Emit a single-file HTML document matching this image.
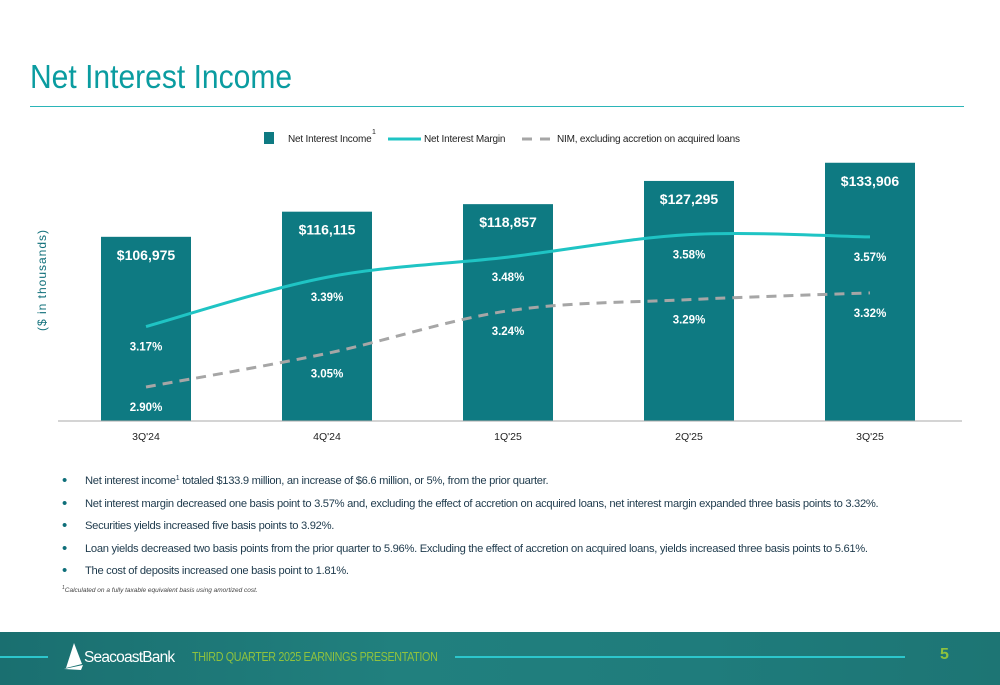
<!DOCTYPE html>
<html><head><meta charset="utf-8">
<style>
body{margin:0;width:1000px;height:685px;overflow:hidden;background:#fff;font-family:"Liberation Sans",sans-serif;position:relative}
.t{position:absolute;white-space:nowrap}
.title{left:30px;top:58px;font-size:33px;color:#0a9ca0;transform:scaleX(0.91);transform-origin:left top}
.rule{position:absolute;left:30px;top:106px;width:934px;height:1px;background:#2bb5b8}
ul{position:absolute;left:62px;top:474px;margin:0;padding:0;list-style:none;font-size:11.2px;color:#1e3a4c;letter-spacing:-0.3px}
li{height:22.5px;line-height:14px;position:relative;padding-left:23px;white-space:nowrap}
li:before{content:"•";position:absolute;left:0;top:0;font-size:15px;line-height:14px;color:#0f6f7a}
li sup{font-size:7px;line-height:0;vertical-align:4px}
.foot{position:absolute;left:0;top:632px;width:1000px;height:53px;background:linear-gradient(90deg,#1a6f70,#21807e 40%,#1f7c7c 70%,#1d7574)}
</style></head><body>
<div class="t title">Net Interest Income</div>
<div class="rule"></div>
<svg id="chart" width="1000" height="460" style="position:absolute;left:0;top:0" font-family="Liberation Sans, sans-serif"></svg>
<ul>
<li>Net interest income<sup>1</sup> totaled $133.9 million, an increase of $6.6 million, or 5%, from the prior quarter.</li>
<li>Net interest margin decreased one basis point to 3.57% and, excluding the effect of accretion on acquired loans, net interest margin expanded three basis points to 3.32%.</li>
<li>Securities yields increased five basis points to 3.92%.</li>
<li>Loan yields decreased two basis points from the prior quarter to 5.96%. Excluding the effect of accretion on acquired loans, yields increased three basis points to 5.61%.</li>
<li>The cost of deposits increased one basis point to 1.81%.</li>
</ul>
<div class="t" style="left:62px;top:585px;font-size:6.5px;font-style:italic;color:#444"><sup style="font-size:5px">1</sup>Calculated on a fully taxable equivalent basis using amortized cost.</div>
<div class="foot">
<div style="position:absolute;left:0;top:24px;width:48px;height:2px;background:#2cc6cc"></div>
<svg style="position:absolute;left:62px;top:10px" width="22" height="30"><path d="M12 1 L4 26 L20 22 Z M2 27 L21 23 L19 28 Z" fill="#fff"/></svg>
<div class="t" style="left:84px;top:17px;font-size:15.5px;color:#fff;letter-spacing:-0.8px">SeacoastBank</div>
<div class="t" style="left:192px;top:18px;font-size:12.5px;color:#8fc23e;letter-spacing:-0.4px;transform:scaleX(0.86);transform-origin:left top">THIRD QUARTER 2025 EARNINGS PRESENTATION</div>
<div style="position:absolute;left:455px;top:24px;width:450px;height:2px;background:#2cc6cc"></div>
<div class="t" style="left:940px;top:14px;font-size:16px;font-weight:bold;color:#8fc23e">5</div>
</div>
<script>
const categories=["3Q'24","4Q'24","1Q'25","2Q'25","3Q'25"];
const niiValues=[106975,116115,118857,127295,133906];
const niiLabels=["$106,975","$116,115","$118,857","$127,295","$133,906"];
const nimValues=[3.17,3.39,3.48,3.58,3.57];
const nimExValues=[2.90,3.05,3.24,3.29,3.32];
const NS="http://www.w3.org/2000/svg";
const svg=document.getElementById('chart');
const base=421;
const xC=i=>146+i*181;
const yBar=v=>base-(v-40000)*0.00275;
const yPct=v=>387-(v-2.90)*224;
function mk(t,a,txt){const e=document.createElementNS(NS,t);for(const k in a)e.setAttribute(k,a[k]);if(txt!=null)e.textContent=txt;svg.appendChild(e);return e;}
let yt=mk('text',{x:0,y:0,transform:'translate(46,280) rotate(-90)','text-anchor':'middle','font-size':12,fill:'#0f6f7a','letter-spacing':'1'},'($ in thousands)');


categories.forEach((c,i)=>{
 const y=yBar(niiValues[i]);
 const r=mk('rect',{x:xC(i)-45,y:y,width:90,height:base-y,fill:'#0e7a82'});
 
 
 const l=mk('text',{x:xC(i),y:y+23,'text-anchor':'middle','font-size':14,'font-weight':'bold',fill:'#fff'},niiLabels[i]);
 
 
 const xl=mk('text',{x:xC(i),y:440,'text-anchor':'middle','font-size':10.5,fill:'#222'},c);
 
 
});
const ax=mk('line',{x1:58,x2:962,y1:base,y2:base,stroke:'#aaa','stroke-width':1});


function path(vals){
 const p=vals.map((v,i)=>[xC(i),yPct(v)]);
 let d='M'+p[0][0]+','+p[0][1];
 for(let i=0;i<p.length-1;i++){
  const p0=p[i-1]||p[i],p1=p[i],p2=p[i+1],p3=p[i+2]||p2;
  const c1=[p1[0]+(p2[0]-p0[0])/6,p1[1]+(p2[1]-p0[1])/6];
  const c2=[p2[0]-(p3[0]-p1[0])/6,p2[1]-(p3[1]-p1[1])/6];
  d+=` C${c1[0]},${c1[1]} ${c2[0]},${c2[1]} ${p2[0]},${p2[1]}`;
 }
 return d;
}
const l1=mk('path',{d:path(nimValues),fill:'none',stroke:'#1fc4c4','stroke-width':3});


const l2=mk('path',{d:path(nimExValues),fill:'none',stroke:'#a6a6a6','stroke-width':3,'stroke-dasharray':'10,7'});


[[nimValues,'nim-label'],[nimExValues,'nim-ex-label']].forEach(([vals,n])=>{
 vals.forEach((v,i)=>{
  const t=mk('text',{x:xC(i),y:yPct(v)+24,'text-anchor':'middle','font-size':11.5,'font-weight':'bold',fill:'#fff'},v.toFixed(2)+'%');
  
  
 });
});
const lg=[];
lg.push(mk('rect',{x:264,y:132,width:10,height:12,fill:'#0e7a82'}));
lg.push(mk('text',{x:288,y:142,'font-size':10,'letter-spacing':'-0.2',fill:'#222'},'Net Interest Income'));
lg.push(mk('text',{x:372,y:134,'font-size':7,fill:'#222'},'1'));
lg.push(mk('line',{x1:388,x2:421,y1:139,y2:139,stroke:'#1fc4c4','stroke-width':3}));
lg.push(mk('text',{x:424,y:142,'font-size':10,'letter-spacing':'-0.2',fill:'#222'},'Net Interest Margin'));
lg.push(mk('line',{x1:522,x2:550,y1:139,y2:139,stroke:'#a6a6a6','stroke-width':3,'stroke-dasharray':'10,8'}));
lg.push(mk('text',{x:557,y:142,'font-size':10,'letter-spacing':'-0.2',fill:'#222'},'NIM, excluding accretion on acquired loans'));
lg.forEach(e=>{
 
 
});
</script>
</body></html>
